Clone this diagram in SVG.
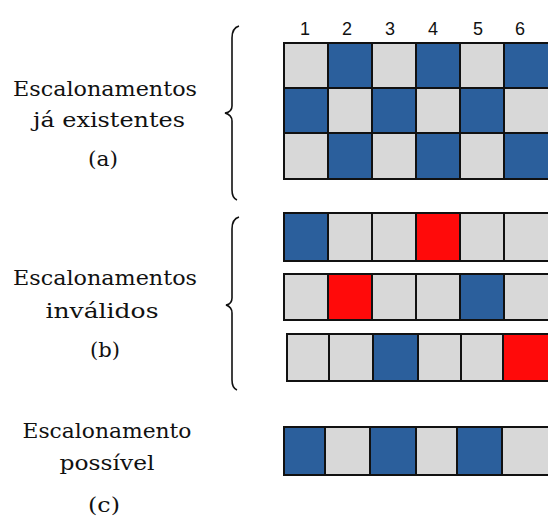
<svg xmlns="http://www.w3.org/2000/svg" width="548" height="519" viewBox="0 0 548 519">
<defs>
<style>
.g{fill:#d8d8d8;stroke:#111;stroke-width:2}
.b{fill:#2b5f9c;stroke:#111;stroke-width:2}
.r{fill:#ff0a0a;stroke:#111;stroke-width:2}
.lbl{font-family:"DejaVu Serif","Liberation Serif",serif;font-size:21px;fill:#111;text-anchor:middle}
.num{font-family:"Liberation Sans","DejaVu Sans",sans-serif;font-size:18px;fill:#111;text-anchor:middle}
.brace{fill:none;stroke:#111;stroke-width:1.6}
</style>
</defs>
<rect width="548" height="519" fill="#fff"/>
<g id="headers">
<text class="num" x="305" y="35">1</text>
<text class="num" x="347" y="35">2</text>
<text class="num" x="390" y="35">3</text>
<text class="num" x="433" y="35">4</text>
<text class="num" x="478" y="35">5</text>
<text class="num" x="520" y="35">6</text>
</g>
<g id="label-a">
<text class="lbl" x="105" y="96" textLength="184" lengthAdjust="spacingAndGlyphs">Escalonamentos</text>
<text class="lbl" x="109" y="127" textLength="152" lengthAdjust="spacingAndGlyphs">já existentes</text>
<text class="lbl" x="103" y="166" textLength="30" lengthAdjust="spacingAndGlyphs">(a)</text>
</g>
<g id="label-b">
<text class="lbl" x="105" y="285" textLength="184" lengthAdjust="spacingAndGlyphs">Escalonamentos</text>
<text class="lbl" x="102" y="318" textLength="113" lengthAdjust="spacingAndGlyphs">inválidos</text>
<text class="lbl" x="105" y="357" textLength="30" lengthAdjust="spacingAndGlyphs">(b)</text>
</g>
<g id="label-c">
<text class="lbl" x="107" y="438" textLength="169" lengthAdjust="spacingAndGlyphs">Escalonamento</text>
<text class="lbl" x="107" y="470" textLength="95" lengthAdjust="spacingAndGlyphs">possível</text>
<text class="lbl" x="104" y="512" textLength="32" lengthAdjust="spacingAndGlyphs">(c)</text>
</g>
<g id="braces">
<path class="brace" d="M239,26 Q232,28 232,38 L232,106 Q232,112 225,113 Q232,115 232,121 L232,190 Q232,198 237,200"/>
<path class="brace" d="M239,217 Q232,219 232,229 L232,298 Q232,304 226,305 Q232,307 232,313 L232,380 Q232,388 237,390"/>
</g>
<g id="grid-a">
<rect class="g" x="284" y="43" width="44" height="45"/>
<rect class="b" x="328" y="43" width="44" height="45"/>
<rect class="g" x="372" y="43" width="44" height="45"/>
<rect class="b" x="416" y="43" width="44" height="45"/>
<rect class="g" x="460" y="43" width="44" height="45"/>
<rect class="b" x="504" y="43" width="46" height="45"/>
<rect class="b" x="284" y="88" width="44" height="45"/>
<rect class="g" x="328" y="88" width="44" height="45"/>
<rect class="b" x="372" y="88" width="44" height="45"/>
<rect class="g" x="416" y="88" width="44" height="45"/>
<rect class="b" x="460" y="88" width="44" height="45"/>
<rect class="g" x="504" y="88" width="46" height="45"/>
<rect class="g" x="284" y="133" width="44" height="46"/>
<rect class="b" x="328" y="133" width="44" height="46"/>
<rect class="g" x="372" y="133" width="44" height="46"/>
<rect class="b" x="416" y="133" width="44" height="46"/>
<rect class="g" x="460" y="133" width="44" height="46"/>
<rect class="b" x="504" y="133" width="46" height="46"/>
</g>
<g id="row-b1">
<rect class="b" x="284" y="213" width="44" height="48"/>
<rect class="g" x="328" y="213" width="44" height="48"/>
<rect class="g" x="372" y="213" width="44" height="48"/>
<rect class="r" x="416" y="213" width="44" height="48"/>
<rect class="g" x="460" y="213" width="44" height="48"/>
<rect class="g" x="504" y="213" width="46" height="48"/>
</g>
<g id="row-b2">
<rect class="g" x="284" y="274" width="44" height="46"/>
<rect class="r" x="328" y="274" width="44" height="46"/>
<rect class="g" x="372" y="274" width="44" height="46"/>
<rect class="g" x="416" y="274" width="44" height="46"/>
<rect class="b" x="460" y="274" width="44" height="46"/>
<rect class="g" x="504" y="274" width="46" height="46"/>
</g>
<g id="row-b3">
<rect class="g" x="287" y="334" width="42" height="47"/>
<rect class="g" x="329" y="334" width="44" height="47"/>
<rect class="b" x="373" y="334" width="45" height="47"/>
<rect class="g" x="418" y="334" width="43" height="47"/>
<rect class="g" x="461" y="334" width="42" height="47"/>
<rect class="r" x="503" y="334" width="47" height="47"/>
</g>
<g id="row-c">
<rect class="b" x="284" y="427" width="41" height="48"/>
<rect class="g" x="325" y="427" width="45" height="48"/>
<rect class="b" x="370" y="427" width="46" height="48"/>
<rect class="g" x="416" y="427" width="41" height="48"/>
<rect class="b" x="457" y="427" width="45" height="48"/>
<rect class="g" x="502" y="427" width="48" height="48"/>
</g>
</svg>
